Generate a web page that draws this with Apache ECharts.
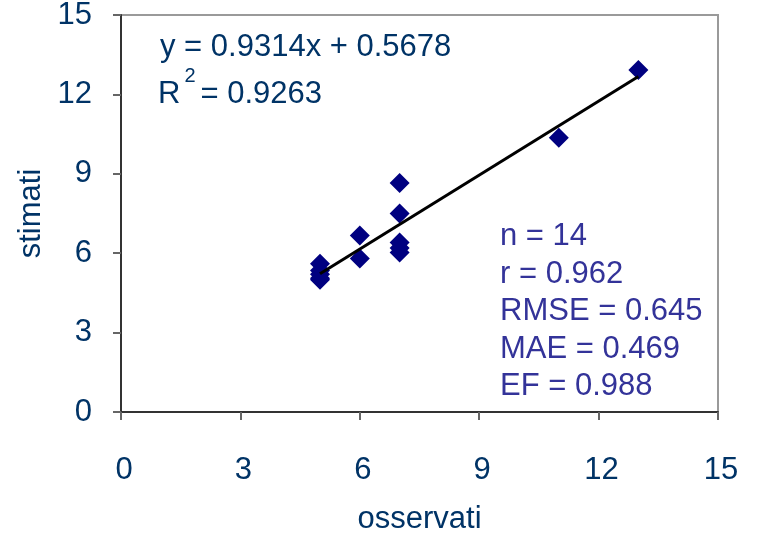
<!DOCTYPE html>
<html>
<head>
<meta charset="utf-8">
<script src="https://cdn.jsdelivr.net/npm/echarts@6/dist/echarts.min.js"></script>
<style>
  html, body { margin: 0; padding: 0; background: #fff; }
  #chart { width: 761px; height: 535px; }
</style>
</head>
<body>
<div id="chart"></div>
<script>
// valori osservati / stimati
var osservati = [13, 11, 7, 7, 7, 7, 7, 6, 6, 5, 5, 5, 5, 5]
var stimati = [12.92, 10.36, 8.65, 7.5, 6.4, 6.2, 6.03, 6.67, 5.8, 5.6, 5.35, 5.2, 5.05, 5.0]
// retta di regressione (dall'equazione riportata)
var slope = 0.9314
var intercept = 0.5678
var trendX = [5, 13]
var axisTicks = [0, 3, 6, 9, 12, 15]
var statsLines = ['n = 14', 'r = 0.962', 'RMSE = 0.645', 'MAE = 0.469', 'EF = 0.988']

var points = osservati.map(function (x, i) { return [x, stimati[i]] })
var trend = trendX.map(function (x) { return [x, slope * x + intercept] })

var font = '"Liberation Sans", Arial, sans-serif'
var txtColor = '#003366'
var fs = 31

var myChart = echarts.init(document.getElementById('chart'))
var option = {
  animation: false,
  grid: {
    left: 121, right: 43, top: 15, bottom: 123,
    outerBoundsMode: 'none',
    containLabel: false,
    show: true, borderColor: '#9a9a9a', borderWidth: 2
  },
  xAxis: {
    type: 'value',
    min: axisTicks[0],
    max: axisTicks[axisTicks.length - 1],
    interval: 3,
    name: 'osservati',
    nameLocation: 'middle',
    nameGap: 92,
    nameTextStyle: { fontFamily: font, fontSize: fs, color: txtColor },
    axisLine: { lineStyle: { color: '#333', width: 2 } },
    axisTick: { show: true, length: 8, lineStyle: { color: '#666', width: 2 } },
    axisLabel: { margin: 43, fontFamily: font, fontSize: fs, color: txtColor, padding: [0, 0, 0, 6] },
    splitLine: { show: false }
  },
  yAxis: {
    type: 'value',
    min: axisTicks[0],
    max: axisTicks[axisTicks.length - 1],
    interval: 3,
    name: 'stimati',
    nameLocation: 'middle',
    nameGap: 63,
    nameTextStyle: { fontFamily: font, fontSize: fs, color: txtColor },
    axisLine: { lineStyle: { color: '#333', width: 2 } },
    axisTick: { show: true, length: 8, lineStyle: { color: '#666', width: 2 } },
    axisLabel: { margin: 29, fontFamily: font, fontSize: fs, color: txtColor, padding: [12, 0, 0, 0] },
    splitLine: { show: false }
  },
  graphic: [
    {
      type: 'text', left: 160, top: 32,
      style: { text: 'y = ' + slope + 'x + ' + intercept, font: fs + 'px ' + font, fill: txtColor }
    },
    {
      type: 'text', left: 158, top: 66,
      style: {
        text: '{a|R}{s|2}{a|= 0.9263}',
        rich: {
          a: { font: fs + 'px ' + font, fill: txtColor, lineHeight: 44, verticalAlign: 'bottom' },
          s: { font: '20px ' + font, fill: txtColor, lineHeight: 44, verticalAlign: 'top', padding: [0, 5, 0, 4] }
        }
      }
    },
    {
      type: 'text', left: 500, top: 218,
      style: {
        text: statsLines.join('\n'),
        font: fs + 'px ' + font,
        lineHeight: 37.5,
        fill: '#333399'
      }
    }
  ],
  series: [
    {
      type: 'scatter',
      data: points,
      symbol: 'diamond',
      symbolSize: 20,
      itemStyle: { color: '#000080', opacity: 1 },
      z: 3
    },
    {
      type: 'line',
      data: trend,
      symbol: 'none',
      lineStyle: { color: '#000', width: 3 },
      z: 4
    }
  ]
}
myChart.setOption(option)
</script>
</body>
</html>
